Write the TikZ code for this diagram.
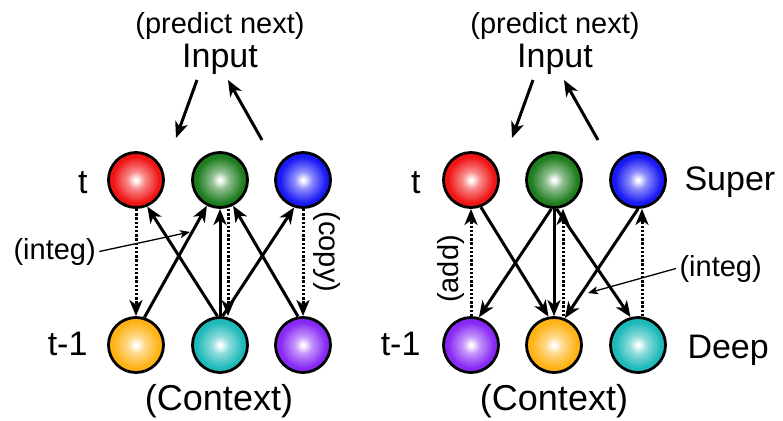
\documentclass[tikz,border=0pt]{standalone}
\usepackage{fontspec}
\setmainfont{Liberation Sans}
\usetikzlibrary{arrows.meta}
\definecolor{cR}{RGB}{240,20,20}
\definecolor{cG}{RGB}{30,125,30}
\definecolor{cB}{RGB}{25,25,245}
\definecolor{cO}{RGB}{255,178,20}
\definecolor{cC}{RGB}{30,185,185}
\definecolor{cP}{RGB}{135,40,245}
\newcommand{\mkshade}[2]{\pgfdeclareradialshading{#1}{\pgfpoint{0bp}{0bp}}{color(0bp)=(white); color(1bp)=(white); color(8bp)=(#2!50!white); color(21bp)=(#2); color(50bp)=(#2)}}
\mkshade{shR}{cR}
\mkshade{shG}{cG}
\mkshade{shB}{cB}
\mkshade{shO}{cO}
\mkshade{shC}{cC}
\mkshade{shP}{cP}
\tikzset{
  unit/.style={circle, draw=black, line width=2.8pt, minimum size=55pt, inner sep=0pt, shade, shading=#1},
  conn/.style={line width=3pt, -{Stealth[length=16pt,width=13pt,inset=4.5pt]}},
  dconn/.style={conn, dash pattern=on 2.4pt off 1.8pt},
  thinarr/.style={line width=1.3pt, -{Stealth[length=10pt,width=8pt,inset=2.5pt]}},
  big/.style={font=\fontsize{34}{36}\selectfont},
  mid/.style={font=\fontsize{29}{31}\selectfont},
  ctx/.style={font=\fontsize{36}{38}\selectfont},
}
\begin{document}
\begin{tikzpicture}[x=1pt,y=-1pt]
\useasboundingbox (0,0) rectangle (783,420);
% ---------- left panel ----------
\node[unit=shR] (LR) at (136,180) {};
\node[unit=shG] (LG) at (220,180) {};
\node[unit=shB] (LB) at (303,180) {};
\node[unit=shO] (LO) at (136,345) {};
\node[unit=shC] (LC) at (220,345) {};
\node[unit=shP] (LP) at (303,345) {};
\node[mid, anchor=base] (LpredN) at (220,34) {(predict next)};
\node[big, anchor=base] (LinN) at (220,67) {Input};
\node[big, anchor=base east] (LtN) at (91,193) {t};
\node[big, anchor=base east] (Lt1N) at (91,355) {t-1};
\node[mid, anchor=base west] (LintegN) at (10,259) {(integ)};
\node[mid, rotate=-90] (LcopyN) at (327,252) {(copy)};
\node[ctx, anchor=base] (LctxN) at (219,410) {(Context)};
\coordinate (La1) at (197,80);
\coordinate (La2) at (176,138);
\coordinate (La3) at (262,140);
\coordinate (La4) at (228,80);
\coordinate (LiTip) at (190,232);
\draw[conn] (La1) -- (La2);
\draw[conn] (La3) -- (La4);
\draw[dconn] (LR.south) -- (LO.north);
\draw[dconn] ([xshift=8pt]LG.south) -- ([xshift=8pt]LC.north);
\draw[dconn] (LB.south) -- (LP.north);
\draw[conn] (LO.73) -- (LG.243);
\draw[conn] (LC.95) -- (LR.293);
\draw[conn] (LC.90) -- (LG.270);
\draw[conn] (LC.85) -- (LB.252);
\draw[conn] (LP.100) -- (LG.297);
\draw[thinarr] (LintegN.east) -- (LiTip);
% ---------- right panel ----------
\node[unit=shR] (RR) at (471,180) {};
\node[unit=shG] (RG) at (554,180) {};
\node[unit=shB] (RB) at (638,180) {};
\node[unit=shP] (RP) at (471,345) {};
\node[unit=shO] (RO) at (554,345) {};
\node[unit=shC] (RC) at (638,345) {};
\node[mid, anchor=base] (RpredN) at (555,34) {(predict next)};
\node[big, anchor=base] (RinN) at (555,67) {Input};
\node[big, anchor=base east] (RtN) at (424,193) {t};
\node[big, anchor=base east] (Rt1N) at (424,355) {t-1};
\node[big, anchor=base west] (RsupN) at (681,190) {Super};
\node[big, anchor=base west] (RdeepN) at (684,358) {Deep};
\node[mid, anchor=base west] (RintegN) at (676,276) {(integ)};
\node[mid, rotate=90] (RaddN) at (451,269) {(add)};
\node[ctx, anchor=base] (RctxN) at (554,410) {(Context)};
\coordinate (Ra1) at (533,80);
\coordinate (Ra2) at (512,138);
\coordinate (Ra3) at (598,140);
\coordinate (Ra4) at (564,80);
\coordinate (RiTip) at (588,293);
\draw[conn] (Ra1) -- (Ra2);
\draw[conn] (Ra3) -- (Ra4);
\draw[dconn] (RP.north) -- (RR.south);
\draw[dconn] ([xshift=9pt]RO.north) -- ([xshift=9pt]RG.south);
\draw[dconn] ([xshift=4pt]RC.north) -- ([xshift=4pt]RB.south);
\draw[conn] (RR.290) -- (RO.101);
\draw[conn] (RG.265) -- (RP.74);
\draw[conn] (RG.270) -- (RO.90);
\draw[conn] (RG.275) -- (RC.105);
\draw[conn] (RB.270) -- (RO.68);
\draw[thinarr] (RintegN.west) -- (RiTip);
\end{tikzpicture}
\end{document}
